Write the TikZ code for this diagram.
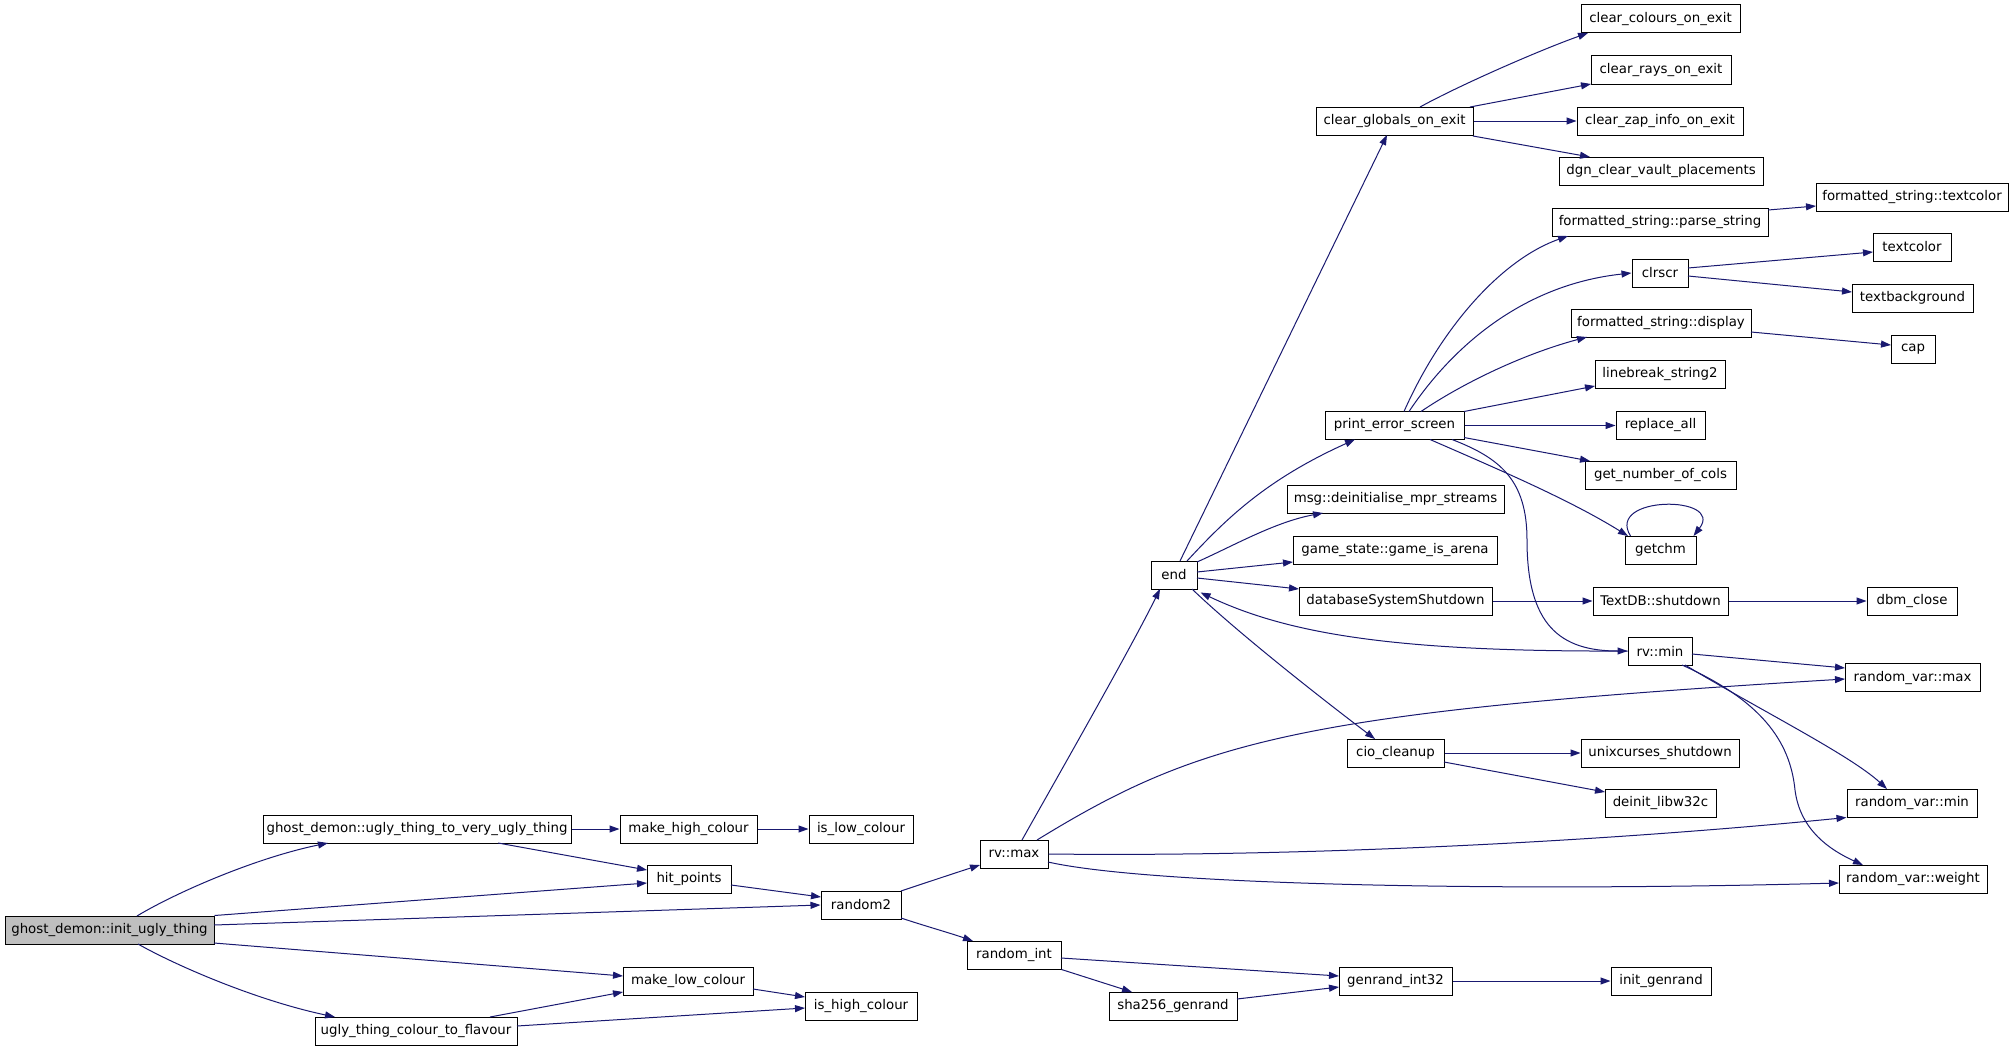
\documentclass[tikz,border=0pt]{standalone}
\usepackage{fontspec}
\setmainfont{DejaVu Sans}
\usetikzlibrary{arrows.meta}
\definecolor{edgeblue}{HTML}{191970}
\definecolor{startgray}{HTML}{BFBFBF}
\tikzset{
  fn/.style={draw=black, line width=1pt, inner sep=0pt, minimum height=28pt,
    font=\fontsize{13.33}{16}\selectfont, text=black},
  startfn/.style={fn, fill=startgray},
  call/.style={draw=edgeblue, line width=1pt, -{Triangle[length=10pt,width=7pt]}},
}
\newcommand\fnode[6][fn]{\node[#1, minimum width={(#4-#3)*1pt}] (#2) at ({(#3+#4)/2},#5) {#6};}
\begin{document}
\begin{tikzpicture}[x=1pt,y=-1pt]
\useasboundingbox[fill=white] (0,0) rectangle (2013,1049);
% nodes
\fnode[startfn]{init}{5}{214}{930}{ghost\_demon::init\_ugly\_thing}
\fnode{toVery}{263}{571}{829}{ghost\_demon::ugly\_thing\_to\_very\_ugly\_thing}
\fnode{makeHigh}{620}{757}{829}{make\_high\_colour}
\fnode{isLow}{809}{913}{829}{is\_low\_colour}
\fnode{hitPoints}{647}{731}{879}{hit\_points}
\fnode{random2}{821}{901}{905}{random2}
\fnode{makeLow}{623}{753}{981}{make\_low\_colour}
\fnode{isHigh}{805}{917}{1006}{is\_high\_colour}
\fnode{flavour}{315}{517}{1031}{ugly\_thing\_colour\_to\_flavour}
\fnode{rvmax}{980}{1048}{854}{rv::max}
\fnode{randint}{967}{1061}{955}{random\_int}
\fnode{sha}{1109}{1237}{1006}{sha256\_genrand}
\fnode{genrand}{1339}{1452}{981}{genrand\_int32}
\fnode{initgen}{1611}{1711}{981}{init\_genrand}
\fnode{end}{1151}{1197}{575}{end}
\fnode{clearGlobals}{1316}{1473}{121}{clear\_globals\_on\_exit}
\fnode{clearColours}{1581}{1740}{19}{clear\_colours\_on\_exit}
\fnode{clearRays}{1591}{1731}{70}{clear\_rays\_on\_exit}
\fnode{clearZap}{1577}{1743}{121}{clear\_zap\_info\_on\_exit}
\fnode{dgn}{1559}{1763}{171}{dgn\_clear\_vault\_placements}
\fnode{parse}{1552}{1768}{222}{formatted\_string::parse\_string}
\fnode{fsTextcolor}{1816}{2008}{197}{formatted\_string::textcolor}
\fnode{clrscr}{1632}{1688}{273}{clrscr}
\fnode{textcolor}{1873}{1951}{247}{textcolor}
\fnode{textbg}{1852}{1973}{298}{textbackground}
\fnode{display}{1571}{1751}{323}{formatted\_string::display}
\fnode{cap}{1891}{1935}{349}{cap}
\fnode{linebreak}{1595}{1725}{374}{linebreak\_string2}
\fnode{printErr}{1325}{1464}{425.5}{print\_error\_screen}
\fnode{replaceAll}{1616}{1705}{425.5}{replace\_all}
\fnode{getNum}{1585}{1736}{475}{get\_number\_of\_cols}
\fnode{msg}{1287}{1504}{499}{msg::deinitialise\_mpr\_streams}
\fnode{getchm}{1625}{1696}{550}{getchm}
\fnode{game}{1293}{1497}{550}{game\_state::game\_is\_arena}
\fnode{dbShut}{1299}{1492}{601}{databaseSystemShutdown}
\fnode{textdb}{1593}{1728}{601}{TextDB::shutdown}
\fnode{dbm}{1867}{1957}{601}{dbm\_close}
\fnode{rvmin}{1628}{1692}{651}{rv::min}
\fnode{rvarMax}{1845}{1980}{677.5}{random\_var::max}
\fnode{cio}{1347}{1444}{753}{cio\_cleanup}
\fnode{unix}{1581}{1739}{753}{unixcurses\_shutdown}
\fnode{deinit}{1605}{1716}{803}{deinit\_libw32c}
\fnode{rvarMin}{1847}{1977}{803}{random\_var::min}
\fnode{rvarWeight}{1839}{1987}{879}{random\_var::weight}
% edges: left group
\draw[call] ([shift={(27.5,-14)}]init.center) .. controls (175,893) and (255,858) .. ([shift={(-89,14)}]toVery.center);
\draw[call] (init.north east) -- ([shift={(-42,4)}]hitPoints.center);
\draw[call] ([shift={(104.5,-5)}]init.center) -- (random2.west);
\draw[call] ([shift={(104.5,13)}]init.center) -- ([shift={(-65,-5)}]makeLow.center);
\draw[call] ([shift={(28.5,14)}]init.center) .. controls (175,965) and (255,1000) .. ([shift={(-81,-14)}]flavour.center);
\draw[call] (toVery.east) -- (makeHigh.west);
\draw[call] ([shift={(81,14)}]toVery.center) -- ([shift={(-42,-9)}]hitPoints.center);
\draw[call] (makeHigh.east) -- (isLow.west);
\draw[call] ([shift={(42,6)}]hitPoints.center) -- ([shift={(-40,-8)}]random2.center);
\draw[call] ([shift={(40,-14)}]random2.center) .. controls (925,883) and (955,873) .. ([shift={(-34,11)}]rvmax.center);
\draw[call] ([shift={(40,13)}]random2.center) .. controls (925,926) and (950,933) .. ([shift={(-41,-14)}]randint.center);
\draw[call] ([shift={(65,8)}]makeLow.center) -- ([shift={(-56,-9)}]isHigh.center);
\draw[call] ([shift={(74,-14)}]flavour.center) -- ([shift={(-65,11)}]makeLow.center);
\draw[call] ([shift={(101,-5)}]flavour.center) -- ([shift={(-56,2)}]isHigh.center);
% rv::max and random_int
\draw[call] ([shift={(8,-14)}]rvmax.center) .. controls (1050,790) and (1130,650) .. ([shift={(-14,14)}]end.center);
\draw[call] ([shift={(23,-14)}]rvmax.center) .. controls (1200,740) and (1300,712) .. ([shift={(-67.5,1.5)}]rvarMax.center);
\draw[call] (rvmax.east) .. controls (1300,857) and (1600,842) .. (rvarMin.south west);
\draw[call] ([shift={(34,8)}]rvmax.center) .. controls (1150,885) and (1500,892) .. ([shift={(-74,4)}]rvarWeight.center);
\draw[call] ([shift={(47,3)}]randint.center) -- ([shift={(-56.5,-5)}]genrand.center);
\draw[call] (randint.south east) -- ([shift={(-41,-14)}]sha.center);
\draw[call] ([shift={(64,-7)}]sha.center) -- ([shift={(-56.5,6)}]genrand.center);
\draw[call] (genrand.east) -- (initgen.west);
% end group
\draw[call] ([shift={(6,-14)}]end.center) -- ([shift={(-7.5,14)}]clearGlobals.center);
\draw[call] ([shift={(13,-14)}]end.center) .. controls (1225,520) and (1265,480) .. ([shift={(-39.5,14)}]printErr.center);
\draw[call] ([shift={(23,-13)}]end.center) .. controls (1235,545) and (1275,522) .. ([shift={(-72.5,14)}]msg.center);
\draw[call] ([shift={(23,-3)}]end.center) -- ([shift={(-102,12)}]game.center);
\draw[call] ([shift={(23,3)}]end.center) -- ([shift={(-96.5,-12)}]dbShut.center);
\draw[call] ([shift={(18,14)}]end.center) .. controls (1240,635) and (1330,705) .. ([shift={(-20.5,-14)}]cio.center);
\draw[call] (rvmin.west) .. controls (1400,652) and (1290,635) .. ([shift={(3,3)}]end.south east);
\draw[call] (dbShut.east) -- (textdb.west);
\draw[call] (textdb.east) -- (dbm.west);
\draw[call] (cio.east) -- (unix.west);
\draw[call] ([shift={(48.5,9)}]cio.center) -- ([shift={(-55.5,-11)}]deinit.center);
% clear_globals_on_exit
\draw[call] ([shift={(25.5,-14)}]clearGlobals.center) .. controls (1460,85) and (1540,50) .. ([shift={(-72.5,14)}]clearColours.center);
\draw[call] ([shift={(75.5,-14)}]clearGlobals.center) -- ([shift={(-70,14)}]clearRays.center);
\draw[call] (clearGlobals.east) -- (clearZap.west);
\draw[call] ([shift={(78.5,15)}]clearGlobals.center) -- ([shift={(-71,-14)}]dgn.center);
% print_error_screen
\draw[call] ([shift={(9.5,-14)}]printErr.center) .. controls (1440,330) and (1500,260) .. ([shift={(-92,14)}]parse.center);
\draw[call] ([shift={(14.5,-14)}]printErr.center) .. controls (1450,350) and (1520,285) .. (clrscr.west);
\draw[call] ([shift={(26.5,-14)}]printErr.center) .. controls (1460,385) and (1520,355) .. ([shift={(-74,14)}]display.center);
\draw[call] ([shift={(69.5,-14)}]printErr.center) -- ([shift={(-65,12)}]linebreak.center);
\draw[call] (printErr.east) -- (replaceAll.west);
\draw[call] ([shift={(69.5,12)}]printErr.center) -- ([shift={(-70.5,-14)}]getNum.center);
\draw[call] ([shift={(35.5,14)}]printErr.center) .. controls (1500,470) and (1570,500) .. ([shift={(-32.5,-14)}]getchm.center);
\draw[call] ([shift={(57.5,14)}]printErr.center) .. controls (1500,458) and (1527,480) .. (1527,540) .. controls (1527,625) and (1560,651) .. (rvmin.west);
\draw[call] ([shift={(108,-12)}]parse.center) -- ([shift={(-96,9)}]fsTextcolor.center);
\draw[call] ([shift={(28,-5)}]clrscr.center) -- ([shift={(-39,5)}]textcolor.center);
\draw[call] ([shift={(28,3)}]clrscr.center) -- ([shift={(-60.5,-6)}]textbg.center);
\draw[call] ([shift={(90,9)}]display.center) -- ([shift={(-22,-4)}]cap.center);
\draw[call] ([shift={(-30,-14)}]getchm.center) .. controls (1605,495) and (1725,495) .. ([shift={(33,-14)}]getchm.center);
% rv::min
\draw[call] ([shift={(32,3)}]rvmin.center) -- ([shift={(-67.5,-9.5)}]rvarMax.center);
\draw[call] ([shift={(25,14)}]rvmin.center) .. controls (1760,710) and (1850,755) .. ([shift={(-25,-14)}]rvarMin.center);
\draw[call] ([shift={(22,14)}]rvmin.center) .. controls (1760,700) and (1790,740) .. (1795,790) .. controls (1800,830) and (1830,850) .. ([shift={(-50,-14)}]rvarWeight.center);
\end{tikzpicture}
\end{document}
